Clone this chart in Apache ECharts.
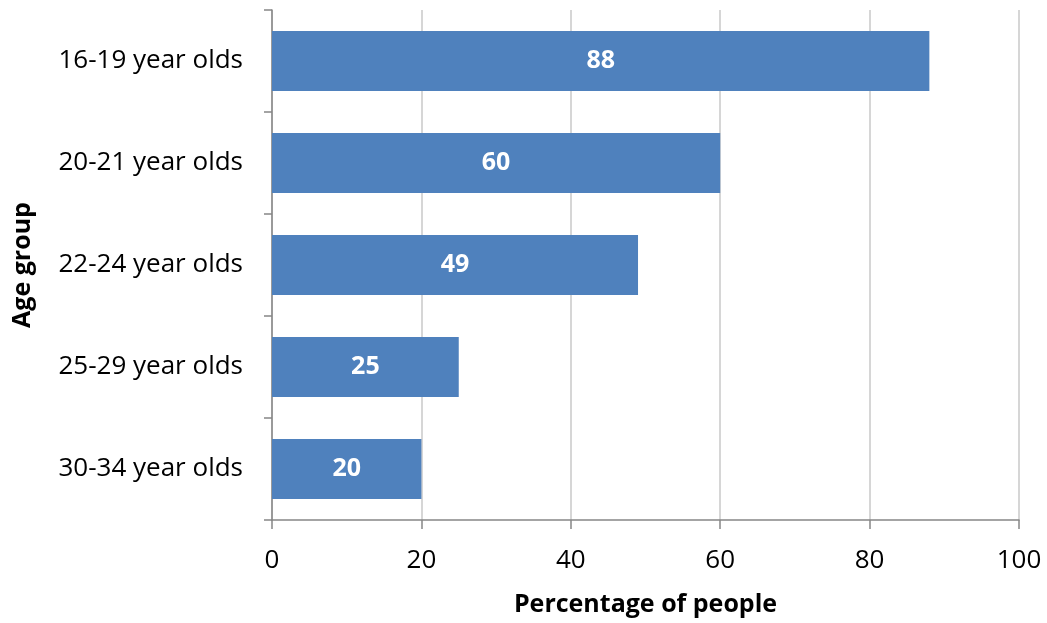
<!DOCTYPE html>
<html>
<head>
<meta charset="utf-8">
<script src="https://cdn.jsdelivr.net/npm/echarts@6/dist/echarts.min.js"></script>
<style>
  html, body { margin: 0; padding: 0; background: #fff; }
  #chart { width: 1047px; height: 623px; }
</style>
</head>
<body>
<div id="chart"></div>
<script>
// Share of people by age group (top to bottom as listed)
const categories = ['16-19 year olds', '20-21 year olds', '22-24 year olds', '25-29 year olds', '30-34 year olds'];
const values = [88, 60, 49, 25, 20];
const xTicks = [0, 20, 40, 60, 80, 100];

const font = '"Open Sans", "Noto Sans", sans-serif';
const chart = echarts.init(document.getElementById('chart'));

chart.setOption({
  backgroundColor: '#ffffff',
  animation: false,
  grid: { left: 272, right: 28, top: 10, bottom: 103, containLabel: false },
  xAxis: {
    type: 'value',
    min: xTicks[0],
    max: xTicks[xTicks.length - 1],
    interval: xTicks[1] - xTicks[0],
    name: 'Percentage of people',
    nameLocation: 'middle',
    nameGap: 72,
    nameTextStyle: { fontFamily: font, fontSize: 25, fontWeight: 'bold', color: '#000' },
    axisLine: { show: true, lineStyle: { color: '#868686', width: 1.5 } },
    axisTick: { show: true, length: 9, lineStyle: { color: '#868686', width: 1.5 } },
    axisLabel: { fontFamily: font, fontSize: 26, color: '#000', margin: 28 },
    splitLine: { show: true, lineStyle: { color: '#c8c8c8', width: 1.5 } }
  },
  yAxis: {
    type: 'category',
    data: categories,
    inverse: true,
    name: 'Age group',
    nameLocation: 'middle',
    nameGap: 237,
    nameRotate: 90,
    nameTextStyle: { fontFamily: font, fontSize: 25, fontWeight: 'bold', color: '#000' },
    axisLine: { show: true, lineStyle: { color: '#868686', width: 1.5 } },
    axisTick: { show: true, length: 8, alignWithLabel: false, lineStyle: { color: '#868686', width: 1.5 } },
    axisLabel: { fontFamily: font, fontSize: 26, color: '#000', margin: 29, padding: [6, 0, 0, 0] },
    splitLine: { show: false }
  },
  series: [{
    type: 'bar',
    data: values,
    barWidth: 60,
    itemStyle: { color: '#4f81bd' },
    label: {
      show: true,
      position: 'inside',
      fontFamily: font,
      fontSize: 25,
      fontWeight: 'bold',
      color: '#ffffff',
      padding: [4, 0, 0, 0]
    }
  }]
});
</script>
</body>
</html>
